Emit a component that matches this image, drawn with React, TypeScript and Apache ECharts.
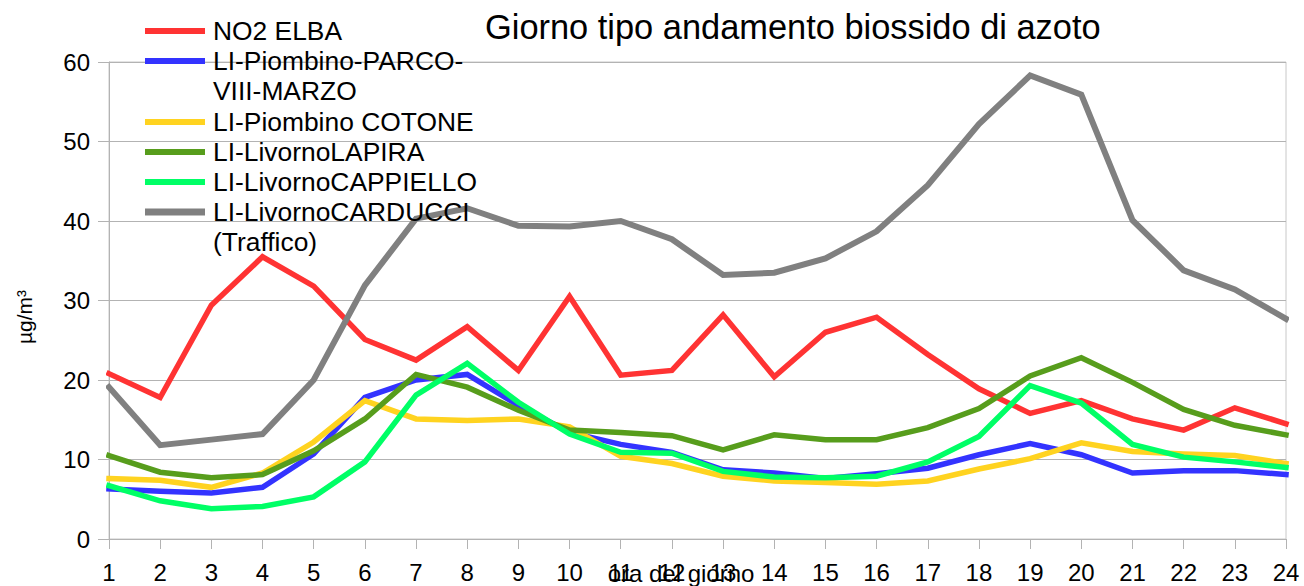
import React, { useEffect, useRef } from "react";
import * as echarts from "echarts";

const hours = ["1","2","3","4","5","6","7","8","9","10","11","12","13","14","15","16","17","18","19","20","21","22","23","24"];

const seriesNames = [
  "NO2 ELBA",
  "LI-Piombino-PARCO-VIII-MARZO",
  "LI-Piombino COTONE",
  "LI-LivornoLAPIRA",
  "LI-LivornoCAPPIELLO",
  "LI-LivornoCARDUCCI (Traffico)",
];

const legendLabels = [
  "NO2 ELBA",
  "LI-Piombino-PARCO-\nVIII-MARZO",
  "LI-Piombino COTONE",
  "LI-LivornoLAPIRA",
  "LI-LivornoCAPPIELLO",
  "LI-LivornoCARDUCCI\n(Traffico)",
];

const no2Elba = [20.8, 17.8, 29.4, 35.5, 31.8, 25.1, 22.5, 26.7, 21.2, 30.5, 20.6, 21.2, 28.2, 20.4, 26.0, 27.9, 23.2, 18.9, 15.8, 17.4, 15.1, 13.7, 16.5, 14.5];
const parco = [6.3, 6.0, 5.8, 6.5, 10.7, 17.8, 20.0, 20.7, 16.8, 13.4, 11.9, 10.9, 8.7, 8.3, 7.6, 8.2, 8.9, 10.6, 12.0, 10.6, 8.3, 8.6, 8.6, 8.1];
const cotone = [7.6, 7.4, 6.5, 8.3, 12.2, 17.4, 15.1, 14.9, 15.1, 14.1, 10.4, 9.5, 7.9, 7.3, 7.1, 6.9, 7.3, 8.8, 10.1, 12.1, 11.0, 10.7, 10.5, 9.5];
const lapira = [10.5, 8.4, 7.7, 8.1, 11.1, 15.1, 20.7, 19.1, 16.2, 13.7, 13.4, 13.0, 11.2, 13.1, 12.5, 12.5, 14.0, 16.4, 20.5, 22.8, 19.7, 16.3, 14.3, 13.1];
const cappiello = [6.7, 4.8, 3.8, 4.1, 5.3, 9.7, 18.1, 22.1, 17.2, 13.2, 10.9, 10.8, 8.5, 7.8, 7.7, 7.9, 9.7, 12.9, 19.3, 17.1, 11.9, 10.3, 9.7, 9.0];
const carducci = [19.1, 11.8, 12.5, 13.2, 20.0, 31.9, 40.3, 41.6, 39.4, 39.3, 40.0, 37.7, 33.2, 33.5, 35.3, 38.7, 44.5, 52.2, 58.3, 55.9, 40.1, 33.8, 31.4, 27.7];

const seriesData = [no2Elba, parco, cotone, lapira, cappiello, carducci];
const colors = ["#ff3333", "#3333ff", "#ffd320", "#579d1c", "#00ff66", "#808080"];
const yTicks = [0, 10, 20, 30, 40, 50, 60];

const FONT = "'Liberation Sans', Arial, sans-serif";

export default function App() {
  const ref = useRef<HTMLDivElement>(null);
  useEffect(() => {
    if (!ref.current) return;
    const chart = echarts.init(ref.current, undefined, { renderer: "svg" });

    const legendY = [31, 61, 122, 152, 182, 212];
    const legendGraphics: any[] = [];
    legendLabels.forEach((lbl, i) => {
      const y = legendY[i];
      legendGraphics.push({
        type: "line",
        shape: { x1: 145, y1: y, x2: 205, y2: y },
        style: { stroke: colors[i], lineWidth: i === 5 ? 7 : 6 },
        z: 10,
      });
      legendGraphics.push({
        type: "text",
        x: 213,
        y: y - 15,
        style: {
          text: lbl,
          font: `26.4px ${FONT}`,
          fill: "#000",
          verticalAlign: "top",
          align: "left",
          lineHeight: 30,
        },
        z: 10,
      });
    });

    chart.setOption({
      animation: false,
      backgroundColor: "#fff",
      textStyle: { fontFamily: FONT },
      title: {
        text: "Giorno tipo andamento biossido di azoto",
        left: 480,
        top: 5,
        textStyle: { fontSize: 34.4, fontWeight: "normal", color: "#000", fontFamily: FONT },
      },
      grid: {
        left: 109,
        right: 18,
        top: 62,
        bottom: 47,
        show: true,
        borderColor: "#c8c8c8",
        borderWidth: 1,
        backgroundColor: "transparent",
      },
      xAxis: {
        type: "category",
        data: hours,
        boundaryGap: false,
        axisLine: { lineStyle: { color: "#b3b3b3", width: 1 } },
        axisTick: { show: true, length: 10, lineStyle: { color: "#b3b3b3" } },
        axisLabel: { color: "#000", fontSize: 24, margin: 21, interval: 0, fontFamily: FONT },
        splitLine: { show: false },
      },
      yAxis: {
        type: "value",
        min: yTicks[0],
        max: yTicks[yTicks.length - 1],
        interval: 10,
        axisLine: { show: true, lineStyle: { color: "#b3b3b3", width: 1 } },
        axisTick: { show: true, length: 11, lineStyle: { color: "#b3b3b3" } },
        axisLabel: { color: "#000", fontSize: 24, margin: 19, fontFamily: FONT },
        splitLine: { show: true, lineStyle: { color: "#b3b3b3", width: 1 } },
      },
      series: seriesNames.map((name, i) => ({
        name,
        type: "line",
        data: seriesData[i],
        showSymbol: false,
        symbol: "none",
        lineStyle: { color: colors[i], width: i === 5 ? 6 : 5.5, cap: "square", join: "miter" },
        itemStyle: { color: colors[i] },
      })),
      graphic: [
        ...legendGraphics,
        {
          type: "text",
          x: 681,
          y: 573,
          style: {
            text: "ora del giorno",
            font: `24px ${FONT}`,
            fill: "#000",
            align: "center",
            verticalAlign: "middle",
          },
          z: 10,
        },
        {
          type: "text",
          x: 24,
          y: 317,
          rotation: Math.PI / 2,
          style: {
            text: "µg/m³",
            font: `21px ${FONT}`,
            fill: "#000",
            align: "center",
            verticalAlign: "middle",
          },
          z: 10,
        },
      ],
    });
    return () => chart.dispose();
  }, []);
  return (
    <div
      ref={ref}
      style={{ position: "fixed", left: 0, top: 0, width: 1304, height: 586, background: "#fff" }}
    />
  );
}
